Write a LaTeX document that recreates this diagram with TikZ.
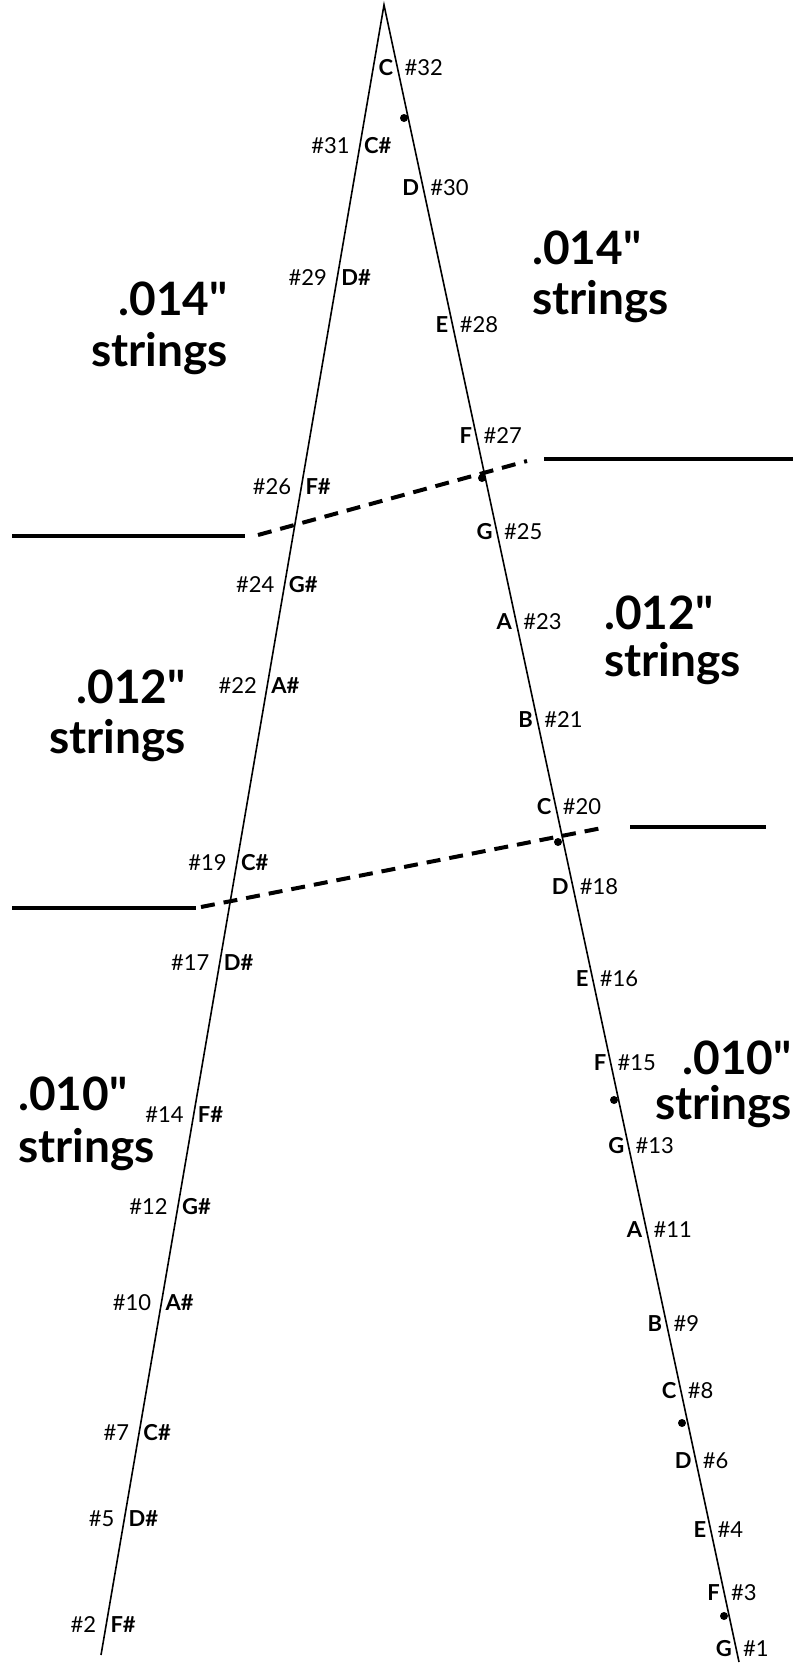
\documentclass[tikz,border=0pt]{standalone}
\usepackage{fontspec}
\setmainfont{Lato}[Ligatures=TeXOff]
\usetikzlibrary{calc}
\begin{document}
\begin{tikzpicture}[x=1pt,y=-1pt,
  tri/.style={line width=1.6pt, line join=miter},
  sepline/.style={line width=4pt},
  sepdash/.style={line width=4pt, dash pattern=on 14pt off 9pt},
  numlbl/.style={font=\fontsize{22}{24}\selectfont, inner sep=0pt},
  notelbl/.style={font=\fontsize{22}{24}\selectfont\bfseries, inner sep=0pt},
  big/.style={font=\fontsize{46}{50}\selectfont\bfseries, inner sep=0pt},
  pin/.style={circle, fill=black, inner sep=0pt, minimum size=8pt}]
\useasboundingbox (0,0) rectangle (802,1663);
\fill[white] (0,0) rectangle (802,1663);

% main strings
\coordinate (apex) at (384,5);
\coordinate (Lbot) at (101,1655);
\coordinate (Rbot) at (739,1662);
\draw[tri] (Lbot) -- (apex) -- (Rbot);

% separators
\coordinate (ulA) at (12,536);
\coordinate (ulB) at (245,536);
\coordinate (udA) at (258,535);
\coordinate (udB) at (527,461);
\coordinate (urA) at (544,459);
\coordinate (urB) at (793,459);
\draw[sepline] (ulA) -- (ulB);
\draw[sepdash] (udA) -- (udB);
\draw[sepline] (urA) -- (urB);

\coordinate (llA) at (12,908);
\coordinate (llB) at (196,908);
\coordinate (ldA) at (201,907);
\coordinate (ldB) at (607,827);
\coordinate (lrA) at (630,827);
\coordinate (lrB) at (766,827);
\draw[sepline] (llA) -- (llB);
\draw[sepdash] (ldA) -- (ldB);
\draw[sepline] (lrA) -- (lrB);

% pins
\node[pin] (pin1) at (404,118) {};
\node[pin] (pin2) at (482,478) {};
\node[pin] (pin3) at (558,842) {};
\node[pin] (pin4) at (614,1100) {};
\node[pin] (pin5) at (682,1423) {};
\node[pin] (pin6) at (724,1616) {};

% left string labels
\foreach \n/\nt/\y in {31/C/146, 29/D/278, 26/F/487, 24/G/584, 22/A/686, 19/C/863, 17/D/963, 14/F/1114, 12/G/1207, 10/A/1303, 7/C/1432, 5/D/1518, 2/F/1624} {
  \coordinate (pL\n) at ($(apex)!{(\y-5)/1650}!(Lbot)$);
  \node[numlbl, anchor=base east] (nL\n) at ([xshift=-10pt,yshift=-8pt]pL\n) {\#\n};
  \node[notelbl, anchor=base west] (tL\n) at ([xshift=4pt,yshift=-8pt]pL\n) {\nt\#};
}

% right string labels
\foreach \n/\nt/\y in {32/C/68, 30/D/188, 28/E/325, 27/F/436, 25/G/532, 23/A/622, 21/B/720, 20/C/806, 18/D/886, 16/E/979, 15/F/1062, 13/G/1146, 11/A/1230, 9/B/1323, 8/C/1390, 6/D/1460, 4/E/1529, 3/F/1592, 1/G/1648} {
  \coordinate (pR\n) at ($(apex)!{(\y-5)/1657}!(Rbot)$);
  \node[notelbl, anchor=base east] (tR\n) at ([xshift=-4pt,yshift=-8pt]pR\n) {\nt};
  \node[numlbl, anchor=base west] (nR\n) at ([xshift=7pt,yshift=-8pt]pR\n) {\#\n};
}

% gauge labels
\node[big, anchor=base east] (g14La) at (228,315) {.014"};
\node[big, anchor=base east] (g14Lb) at (228,366) {strings};
\node[big, anchor=base west] (g14Ra) at (532,264) {.014"};
\node[big, anchor=base west] (g14Rb) at (532,314) {strings};
\node[big, anchor=base east] (g12La) at (186,703) {.012"};
\node[big, anchor=base east] (g12Lb) at (186,753) {strings};
\node[big, anchor=base west] (g12Ra) at (604,629) {.012"};
\node[big, anchor=base west] (g12Rb) at (604,676) {strings};
\node[big, anchor=base west] (g10La) at (18,1110) {.010"};
\node[big, anchor=base west] (g10Lb) at (18,1162) {strings};
\node[big, anchor=base east] (g10Ra) at (792,1074) {.010"};
\node[big, anchor=base east] (g10Rb) at (792,1119) {strings};
\end{tikzpicture}
\end{document}
